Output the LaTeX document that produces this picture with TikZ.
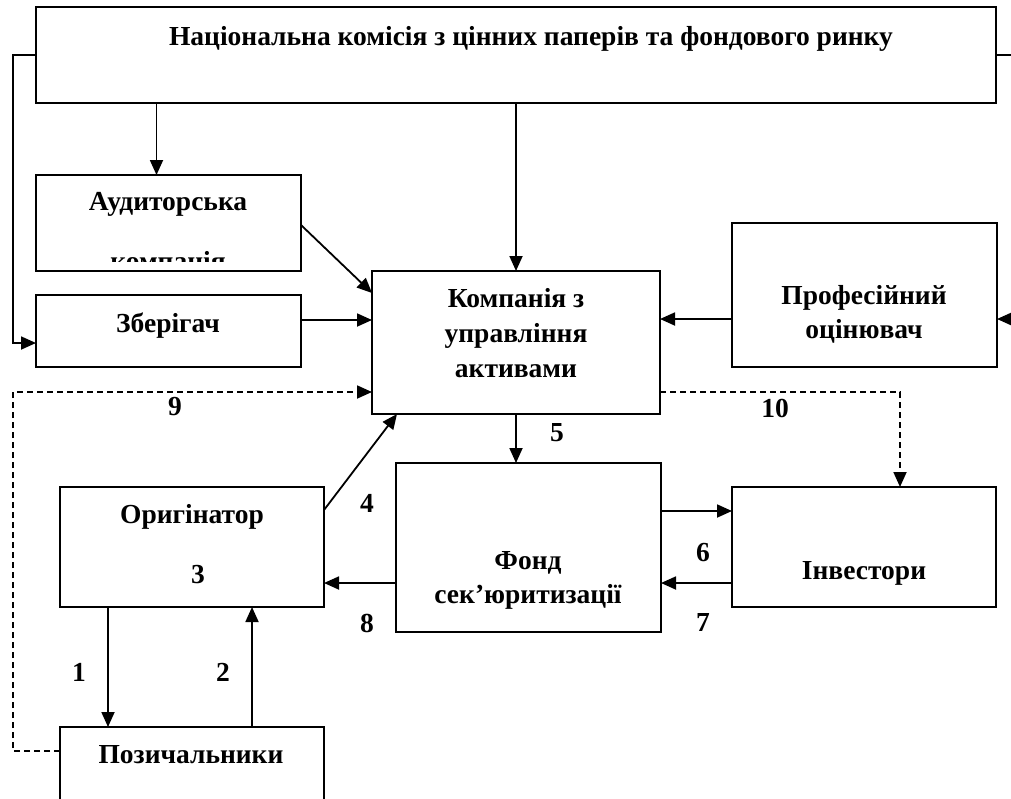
\documentclass[tikz,border=0pt]{standalone}
\usepackage{fontspec}
\setmainfont{Liberation Serif}
\usetikzlibrary{arrows.meta,calc}
\tikzset{
  box/.style={draw, line width=1.8pt, inner sep=0pt, outer sep=0pt, anchor=north west},
  lbl/.style={font=\bfseries\fontsize{27.5}{31}\selectfont, inner sep=0pt, anchor=base},
  num/.style={font=\bfseries\fontsize{27.5}{31}\selectfont, inner sep=0pt},
  conn/.style={line width=1.8pt, -{Triangle[length=15pt,width=13pt]}},
  plain/.style={line width=1.8pt},
  dconn/.style={line width=1.8pt, dash pattern=on 6pt off 4pt, -{Triangle[length=15pt,width=13pt]}},
}
\begin{document}
\begin{tikzpicture}[x=1pt,y=-1pt]
\useasboundingbox (0,0) rectangle (1011,798);
\fill[white] (0,0) rectangle (1011,798);
\clip (0,0) rectangle (1011,798);

% boxes
\node[box, minimum width=960pt, minimum height=96pt] (nkc) at (36,7) {};
\node[box, minimum width=265pt, minimum height=96pt] (aud) at (36,175) {};
\node[box, minimum width=265pt, minimum height=72pt] (zber) at (36,295) {};
\node[box, minimum width=288pt, minimum height=143pt] (komp) at (372,271) {};
\node[box, minimum width=265pt, minimum height=144pt] (prof) at (732,223) {};
\node[box, minimum width=265pt, minimum height=169pt] (fond) at (396,463) {};
\node[box, minimum width=264pt, minimum height=120pt] (inv) at (732,487) {};
\node[box, minimum width=264pt, minimum height=120pt] (orig) at (60,487) {};
\node[box, minimum width=264pt, minimum height=120pt] (poz) at (60,727) {};

% texts
\node[lbl] (t-nkc) at (531,45) {Національна комісія з цінних паперів та фондового ринку};
\node[lbl] (t-aud) at (168,210) {Аудиторська};
\begin{scope}
  \clip (36,175) rectangle (301,261);
  \node[lbl] (t-aud2) at (168,270) {компанія};
\end{scope}
\node[lbl] (t-zber) at (168,332) {Зберігач};
\node[lbl] (t-komp1) at (516,307) {Компанія з};
\node[lbl] (t-komp2) at (516,342) {управління};
\node[lbl] (t-komp3) at (516,377) {активами};
\node[lbl] (t-prof1) at (864,304) {Професійний};
\node[lbl] (t-prof2) at (864,338) {оцінювач};
\node[lbl] (t-fond1) at (528,569) {Фонд};
\node[lbl] (t-fond2) at (528,603) {сек’юритизації};
\node[lbl] (t-inv) at (864,579) {Інвестори};
\node[lbl] (t-orig) at (192,523) {Оригінатор};
\node[lbl] (t-orig3) at (198,583) {3};
\node[lbl] (t-poz) at (191,763) {Позичальники};

% number labels
\node[num] (n9) at (175,407) {9};
\node[num] (n10) at (775,408) {10};
\node[num] (n5) at (557,433) {5};
\node[num] (n4) at (367,503) {4};
\node[num] (n6) at (703,553) {6};
\node[num] (n7) at (703,622) {7};
\node[num] (n8) at (367,623) {8};
\node[num] (n1) at (79,672) {1};
\node[num] (n2) at (223,672) {2};

% helper coordinates
\coordinate (Lx) at (13,0);
\coordinate (Rx) at (1030,0);
\coordinate (a1) at ([xshift=-12pt]aud.north);
\coordinate (p1) at ([yshift=-24pt]prof.east);
\coordinate (p2) at ([yshift=-24pt]prof.west);
\coordinate (z1) at ([yshift=11pt]zber.east);
\coordinate (zl) at ([yshift=-12pt]zber.west);
\coordinate (d9a) at ([yshift=-24pt]poz.north west);
\coordinate (d9b) at ([yshift=22pt]komp.south west);
\coordinate (d10a) at ([yshift=22pt]komp.south east);
\coordinate (d10b) at ([xshift=36pt]inv.north);
\coordinate (f6) at ([yshift=36.5pt]fond.east);
\coordinate (f7) at ([yshift=-35.5pt]fond.east);
\coordinate (f8) at ([yshift=-35.5pt]fond.west);
\coordinate (o1) at ([xshift=-84pt]orig.south);
\coordinate (o2) at ([xshift=60pt]orig.south);

% connectors
\draw[conn] (nkc.south -| a1) -- (a1);
\draw[conn] (nkc.south -| komp.north) -- (komp.north);
\draw[conn] (nkc.west) -- (nkc.west -| Lx) |- (zl);
\draw[plain] (nkc.east) -- (nkc.east -| Rx);
\draw[conn] (p1 -| Rx) -- (p1);
\draw[conn] (p2) -- (p2 -| komp.east);
\draw[conn] (z1) -- (z1 -| komp.west);
\draw[conn] ([yshift=-2pt]aud.east) -- ([yshift=-22pt]komp.north west);
\draw[dconn] (d9a) -- (d9a -| Lx) |- (d9b);
\draw[dconn] (d10a) -| (d10b);
\draw[conn] (komp.south) -- (komp.south |- fond.north);
\draw[conn] ([yshift=-23pt]orig.north east) -- ([xshift=25pt]komp.south west);
\draw[conn] (f6) -- (f6 -| inv.west);
\draw[conn] (f7 -| inv.west) -- (f7);
\draw[conn] (f8) -- (f8 -| orig.east);
\draw[conn] (o1) -- (o1 |- poz.north);
\draw[conn] (o2 |- poz.north) -- (o2);
\end{tikzpicture}
\end{document}
